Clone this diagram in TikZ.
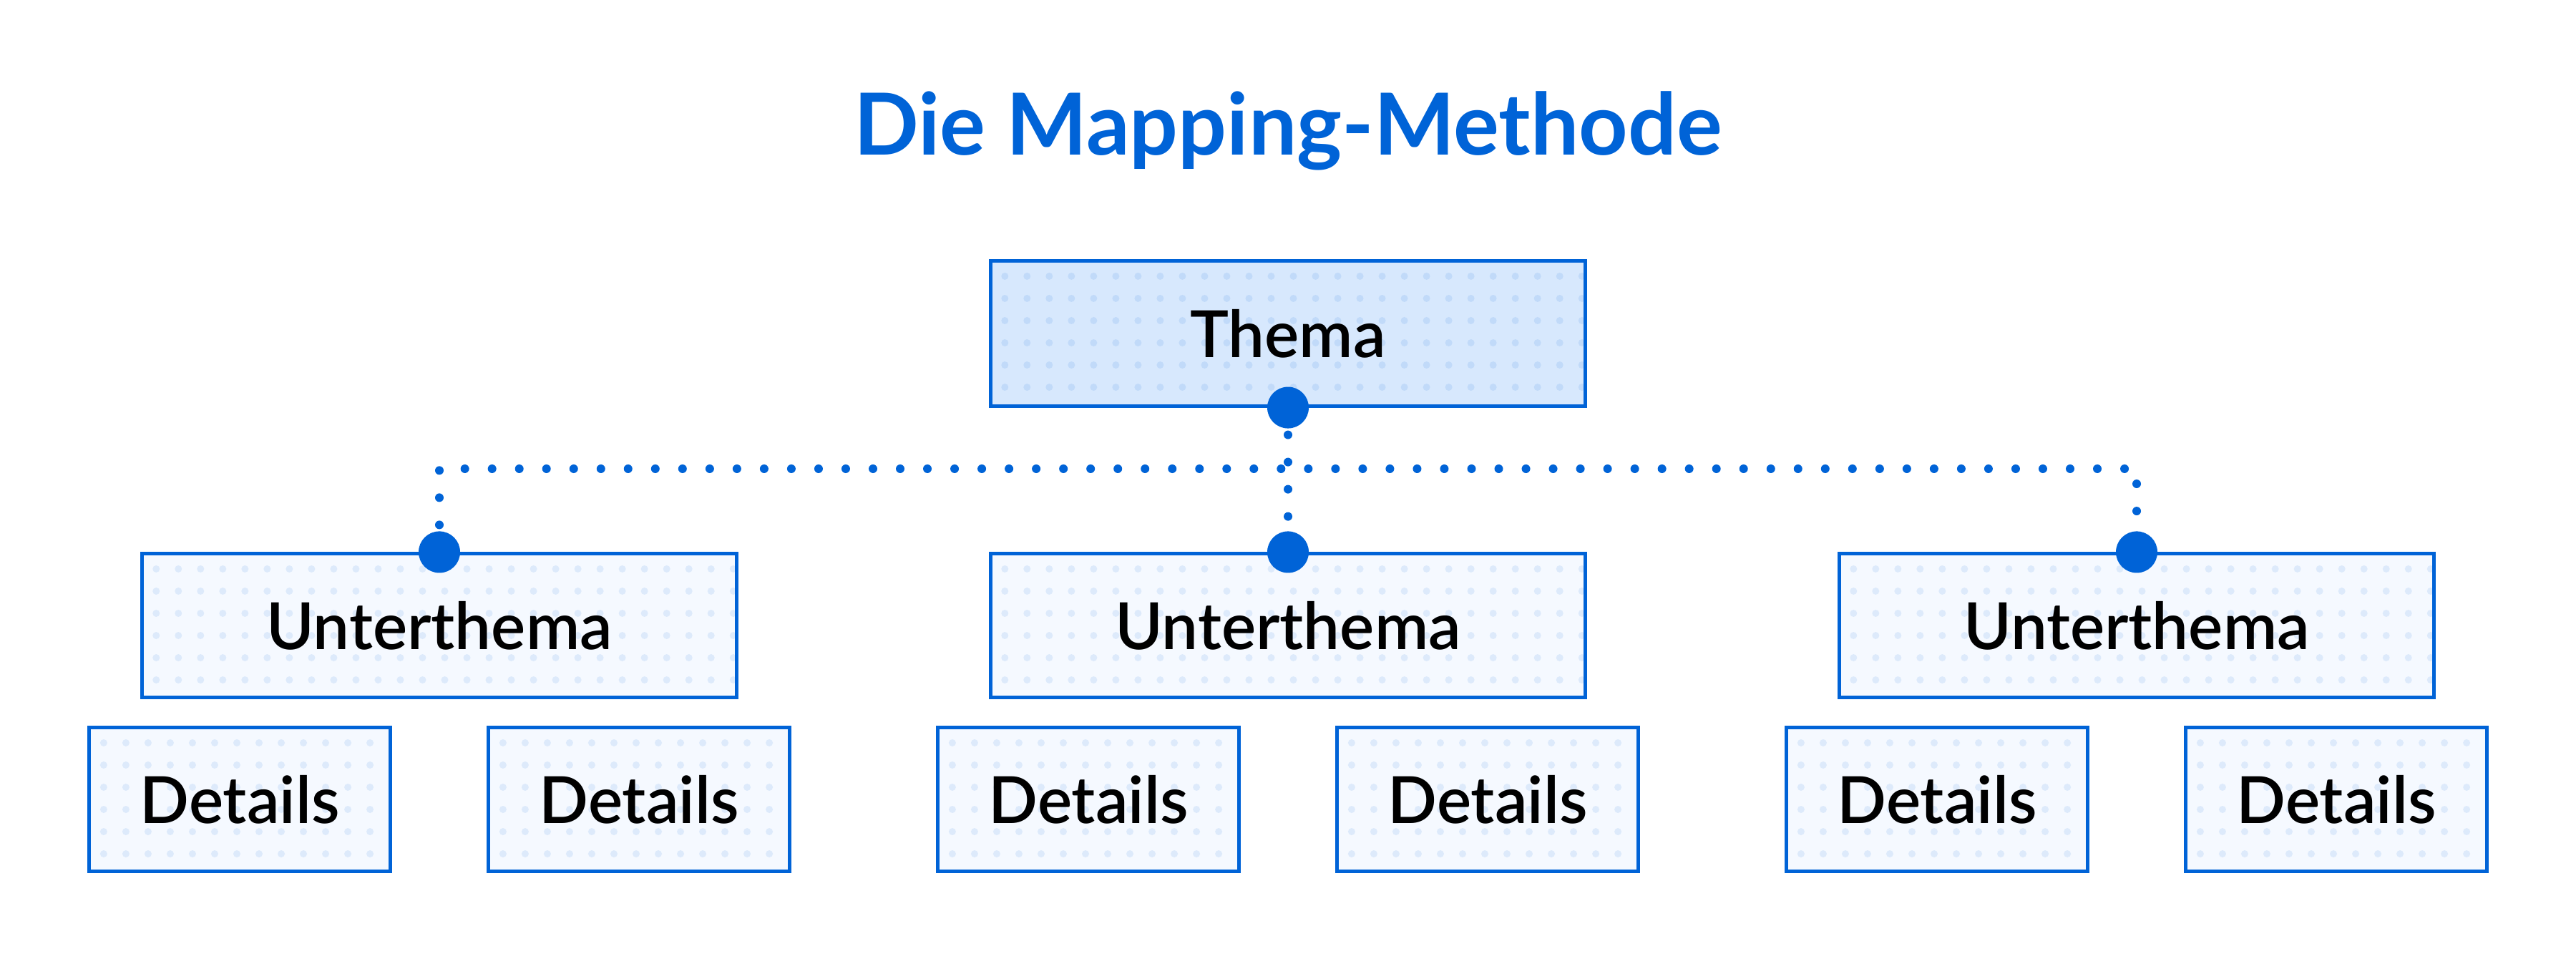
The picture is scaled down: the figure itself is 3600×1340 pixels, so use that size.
\documentclass[tikz,border=0pt]{standalone}
\usepackage{fontspec}
\setmainfont{Lato}
\newfontfamily\semibold{Lato Semibold}
\usetikzlibrary{calc}
\definecolor{mapblue}{HTML}{0063D7}
\definecolor{topfill}{HTML}{D7E8FD}
\definecolor{topdot}{HTML}{C1DAF9}
\definecolor{subfill}{HTML}{F5F9FF}
\definecolor{subdot}{HTML}{DDEAFB}
\tikzset{
  dotgrid/.style={path picture={
    \foreach \i in {0,...,27}
      \foreach \j in {0,...,6}
        \fill[#1] ($(path picture bounding box.north west)+({0.2cm+0.31cm*\i},{-0.21cm-0.31cm*\j})$) circle (0.05cm);}},
  box/.style={draw=mapblue, line width=0.05cm, inner sep=0pt, text=black,
    font=\semibold\fontsize{25.8}{30}\selectfont},
  topbox/.style={box, fill=topfill, dotgrid=topdot, minimum width=8.31cm, minimum height=2.02cm},
  subbox/.style={box, fill=subfill, dotgrid=subdot, minimum width=8.31cm, minimum height=2cm},
  detailbox/.style={box, fill=subfill, dotgrid=subdot, minimum width=4.2cm, minimum height=2cm},
  titletext/.style={anchor=base, text=mapblue, font=\bfseries\fontsize{34}{40}\selectfont},
  dotline/.style={mapblue, line width=0.12cm, line cap=round, dash pattern=on 0pt off 0.38cm},
  knob/.style={fill=mapblue}
}
\begin{document}
\begin{tikzpicture}[x=0.01cm, y=-0.01cm]
    \useasboundingbox (0,0) rectangle (3600,1340);
    \node[titletext] (title) at (1800,217) {Die Mapping-Methode};
    \node[topbox] (T) at (1800,466) {Thema};
    \node[subbox] (U1) at (614,874) {Unterthema};
    \node[subbox] (U2) at (1800,874) {Unterthema};
    \node[subbox] (U3) at (2986,874) {Unterthema};
    \node[detailbox] (D1) at (335,1117) {Details};
    \node[detailbox] (D2) at (893,1117) {Details};
    \node[detailbox] (D3) at (1521,1117) {Details};
    \node[detailbox] (D4) at (2079,1117) {Details};
    \node[detailbox] (D5) at (2707,1117) {Details};
    \node[detailbox] (D6) at (3265,1117) {Details};
    \coordinate (bus) at (1800,655);
    \draw[dotline] (T.south) -- (U2.north);
    \draw[dotline] (U1.north) |- (bus) -| (U3.north);
    \foreach \n in {T.south, U1.north, U2.north, U3.north}
      \fill[knob] (\n) circle (0.29cm);
  \end{tikzpicture}
\end{document}
